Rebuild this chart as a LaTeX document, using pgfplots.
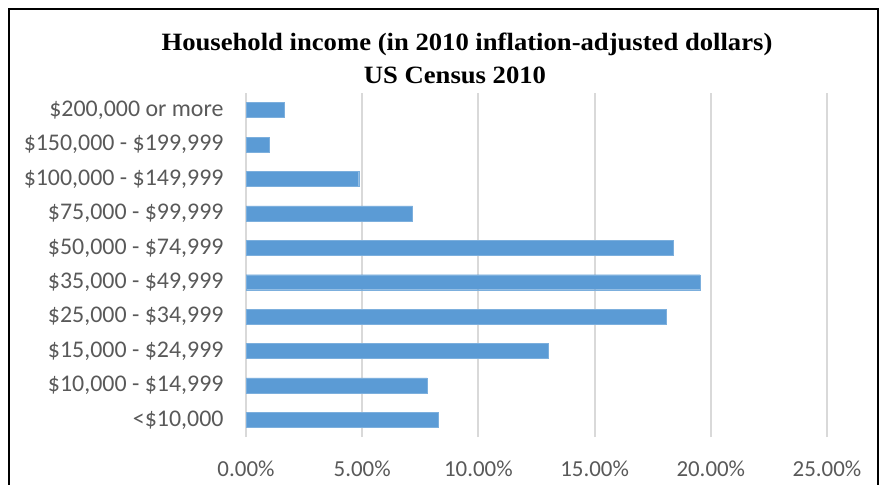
\documentclass[border=0pt]{standalone}
\usepackage{pgfplots}
\pgfplotsset{compat=1.18}
\usepackage{fontspec}
\setmainfont{Carlito}
\newfontfamily\titlefont[FakeStretch=1.07]{Liberation Serif}
\definecolor{barblue}{HTML}{5B9BD5}
\definecolor{gridgray}{HTML}{D9D9D9}
\definecolor{labelgray}{HTML}{595959}
\begin{document}
\begin{tikzpicture}[x=1bp,y=1bp]
\useasboundingbox (0,0) rectangle (883,-485);
\draw[line width=2bp] (9,-485) -- (9,-9) -- (878,-9) -- (878,-485);
\node[font=\titlefont\bfseries\fontsize{25}{29}\selectfont, text=black]
  at (467,-44) {Household income (in 2010 inflation-adjusted dollars)};
\node[font=\titlefont\bfseries\fontsize{25}{29}\selectfont, text=black]
  at (455,-75) {US Census 2010};
\begin{axis}[
  at={(246bp,-437bp)}, anchor=south west,
  scale only axis, width=581bp, height=344bp,
  xbar, bar width=15bp,
  xmin=0, xmax=25, ymin=-0.5, ymax=9.5,
  xtick={0,5,10,15,20,25},
  xticklabels={0.00\%,5.00\%,10.00\%,15.00\%,20.00\%,25.00\%},
  ytick={0,...,9},
  yticklabels={{<\$10,000},{\$10,000 - \$14,999},{\$15,000 - \$24,999},{\$25,000 - \$34,999},{\$35,000 - \$49,999},{\$50,000 - \$74,999},{\$75,000 - \$99,999},{\$100,000 - \$149,999},{\$150,000 - \$199,999},{\$200,000 or more}},
  xmajorgrids, grid style={gridgray, line width=2bp},
  major tick length=0pt,
  axis x line*=bottom, axis y line*=left,
  x axis line style={draw=none},
  y axis line style={gridgray, line width=2bp},
  xticklabel style={font=\fontsize{23}{27}\selectfont, text=labelgray, yshift=-20bp},
  yticklabel style={font=\fontsize{24}{28}\selectfont, text=labelgray, xshift=-19bp},
  clip=false,
]
\addplot[fill=barblue, draw=barblue!80!white] coordinates {
  (8.26,0) (7.79,1) (13.00,2) (18.07,3) (19.54,4)
  (18.37,5) (7.17,6) (4.85,7) (0.98,8) (1.64,9)};
\end{axis}
\end{tikzpicture}
\end{document}
